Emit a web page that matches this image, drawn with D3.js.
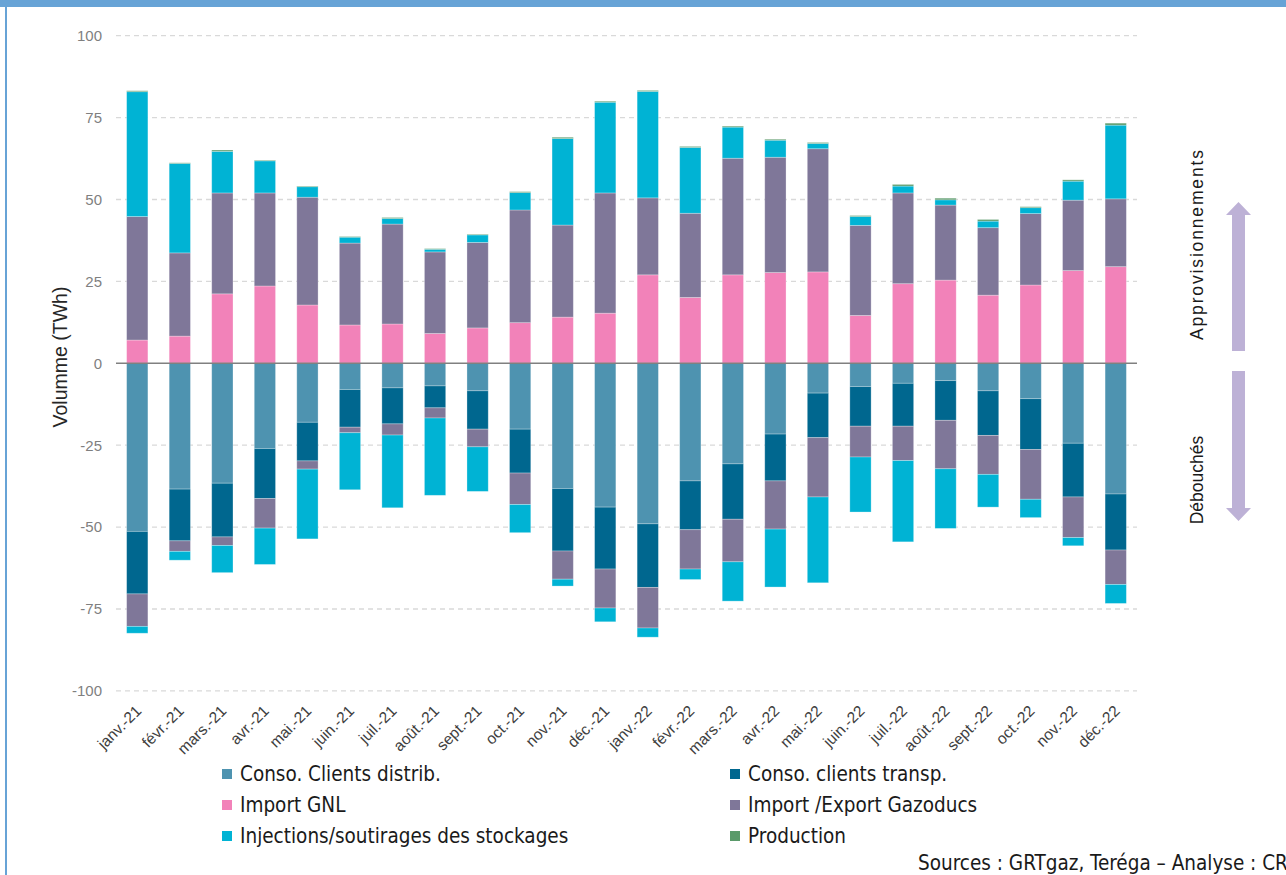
<!DOCTYPE html>
<html><head><meta charset="utf-8">
<script src="https://cdn.jsdelivr.net/npm/d3@7"></script>
<style>
html,body{margin:0;padding:0;background:#fff;overflow:hidden}
svg{display:block}
</style></head>
<body>
<svg id="chart" width="1286" height="875"></svg>
<script>
const months = ["janv.-21","févr.-21","mars.-21","avr.-21","mai.-21","juin.-21","juil.-21","août.-21","sept.-21","oct.-21","nov.-21","déc.-21","janv.-22","févr.-22","mars.-22","avr.-22","mai.-22","juin.-22","juil.-22","août.-22","sept.-22","oct.-22","nov.-22","déc.-22"];
// Approvisionnements (positive)
const importGNL      = [7.1,8.3,21.2,23.6,17.8,11.7,12.0,9.1,10.8,12.4,14.1,15.3,27.0,20.1,27.0,27.7,27.9,14.6,24.3,25.4,20.8,23.9,28.3,29.5];
const gazoducsImport = [37.7,25.4,30.8,28.4,32.9,25.0,30.5,24.9,26.1,34.4,28.1,36.7,23.5,25.7,35.6,35.2,37.6,27.5,27.7,22.9,20.6,21.8,21.5,20.7];
const stockSoutirage = [38.1,27.3,12.7,9.8,3.2,1.8,1.7,0.8,2.3,5.3,26.4,27.7,32.5,20.1,9.5,5.2,1.6,2.7,2.1,1.6,2.0,1.8,5.8,22.5];
const production     = [0.3,0.2,0.4,0.2,0.2,0.2,0.3,0.2,0.2,0.3,0.4,0.3,0.3,0.3,0.3,0.3,0.3,0.3,0.5,0.5,0.5,0.3,0.4,0.6];
// Débouchés (negative)
const consoDistrib   = [-51.3,-38.4,-36.6,-26.0,-18.0,-8.0,-7.5,-6.9,-8.4,-20.1,-38.2,-43.9,-49.0,-35.9,-30.7,-21.6,-9.1,-7.1,-6.1,-5.3,-8.4,-10.8,-24.4,-39.9];
const consoTransp    = [-19.1,-15.8,-16.4,-15.3,-11.8,-11.5,-11.0,-6.7,-11.7,-13.4,-19.1,-18.9,-19.4,-14.9,-16.9,-14.3,-13.6,-12.1,-13.1,-12.1,-13.6,-15.5,-16.4,-17.1];
const gazoducsExport = [-9.9,-3.2,-2.6,-9.0,-2.5,-1.7,-3.4,-3.1,-5.4,-9.6,-8.6,-11.9,-12.4,-12.0,-13.0,-14.7,-18.1,-9.4,-10.5,-14.8,-11.9,-15.2,-12.4,-10.5];
const stockInjection = [-2.1,-2.7,-8.3,-11.1,-21.3,-17.4,-22.2,-23.6,-13.6,-8.6,-2.1,-4.2,-2.8,-3.2,-12.0,-17.7,-26.2,-16.8,-24.8,-18.2,-10.0,-5.6,-2.5,-5.8];
const yTicks = [100,75,50,25,0,-25,-50,-75,-100];
const yTickLabels = ["100","75","50","25","0","-25","-50","-75","-100"];
const legendLabels = ["Conso. Clients distrib.","Conso. clients transp.","Import GNL","Import /Export Gazoducs","Injections/soutirages des stockages","Production"];

const colors = {
  distrib:"#4e93b0", transp:"#00678f", gnl:"#f282b9", gaz:"#7f7799", stock:"#00b3d4", prod:"#5a9a6a"
};

const table = months.map((m,i)=>({
  month:m,
  gnl:importGNL[i], distrib:consoDistrib[i], gazImp:gazoducsImport[i], transp:consoTransp[i],
  stockSout:stockSoutirage[i], gazExp:gazoducsExport[i], prod:production[i], stockInj:stockInjection[i]
}));
const keys = ["gnl","distrib","gazImp","transp","stockSout","gazExp","prod","stockInj"];
const keyColor = {gnl:colors.gnl, distrib:colors.distrib, gazImp:colors.gaz, transp:colors.transp,
  stockSout:colors.stock, gazExp:colors.gaz, prod:colors.prod, stockInj:colors.stock};

const svg = d3.select("#chart");
const plotL=116, plotR=1137, plotT=35.7, plotB=690.9;

// frame
svg.append("rect").attr("x",0).attr("y",0).attr("width",1286).attr("height",7).attr("fill","#67a3d6");
svg.append("rect").attr("x",5).attr("y",0).attr("width",2).attr("height",875).attr("fill","#67a3d6");

const x = d3.scaleBand().domain(months).range([plotL,plotR]).paddingInner(0.5).paddingOuter(0.25);
const y = d3.scaleLinear().domain([-100,100]).range([plotB,plotT]);

// grid
svg.append("g").selectAll("line").data(yTicks.filter(d=>d!==0)).join("line")
  .attr("x1",plotL).attr("x2",plotR).attr("y1",d=>y(d)).attr("y2",d=>y(d))
  .attr("stroke","#d9d9d9").attr("stroke-width",1.3).attr("stroke-dasharray","5,4");

// y axis labels
const yAxis = d3.axisLeft(y).tickValues(yTicks).tickSize(0).tickPadding(0)
  .tickFormat((d,i)=>yTickLabels[i]);
const ya = svg.append("g").attr("transform",`translate(${plotL-14},0)`).call(yAxis);
ya.select(".domain").remove();
ya.selectAll("text").attr("font-family","'Liberation Sans',Arial,sans-serif").attr("font-size",15).attr("fill","#7f7f7f");

// bars
const series = d3.stack().keys(keys).offset(d3.stackOffsetDiverging)(table);
svg.append("g").selectAll("g").data(series).join("g")
  .attr("fill",d=>keyColor[d.key])
  .selectAll("rect").data(d=>d).join("rect")
  .attr("x",d=>x(d.data.month)).attr("width",x.bandwidth())
  .attr("y",d=>y(Math.max(d[0],d[1]))).attr("height",d=>Math.abs(y(d[0])-y(d[1])))
  .attr("stroke","rgba(255,255,255,0.35)").attr("stroke-width",0.8);

// zero line
svg.append("line").attr("x1",plotL).attr("x2",plotR).attr("y1",y(0)).attr("y2",y(0))
  .attr("stroke","#808080").attr("stroke-width",1.5);

// x labels
const xAxis = d3.axisBottom(x).tickSize(0).tickPadding(0);
const xa = svg.append("g").attr("transform",`translate(0,${plotB})`).call(xAxis);
xa.select(".domain").remove();
xa.selectAll("text")
  .attr("font-family","'Liberation Sans',Arial,sans-serif").attr("font-size",15.5).attr("fill","#404040")
  .attr("text-anchor","end").attr("dy",0)
  .attr("transform","translate(5,21) rotate(-45)");

// y title
svg.append("text").attr("transform","translate(67,357) rotate(-90)")
  .attr("text-anchor","middle").attr("font-family","'Liberation Sans',Arial,sans-serif")
  .attr("font-size",19.5).attr("fill","#262626").text("Volumme (TWh)");

// right annotation
const arrowColor="#bdb1d6";
svg.append("path").attr("fill",arrowColor)
  .attr("d",`M1238.5,202 L1251,215 L1245,215 L1245,351 L1232,351 L1232,215 L1226,215 Z`);
svg.append("path").attr("fill",arrowColor)
  .attr("d",`M1232,371 L1245,371 L1245,508 L1251,508 L1238.5,521 L1226,508 L1232,508 Z`);
svg.append("text").attr("transform","translate(1203,245) rotate(-90)").attr("text-anchor","middle")
  .attr("font-family","'Liberation Sans',Arial,sans-serif").attr("font-size",17.5).attr("fill","#1a1a1a")
  .attr("textLength",190).attr("lengthAdjust","spacing").text("Approvisionnements");
svg.append("text").attr("transform","translate(1203,480) rotate(-90)").attr("text-anchor","middle")
  .attr("font-family","'Liberation Sans',Arial,sans-serif").attr("font-size",17.5).attr("fill","#1a1a1a").text("Débouchés");

// legend
const legColors=[colors.distrib,colors.transp,colors.gnl,colors.gaz,colors.stock,colors.prod];
const lg = svg.append("g").selectAll("g").data(legendLabels).join("g")
  .attr("transform",(d,i)=>`translate(${i%2===0?222:730},${774+Math.floor(i/2)*31})`);
lg.append("rect").attr("x",0).attr("y",-5).attr("width",10).attr("height",10).attr("fill",(d,i)=>legColors[i]);
lg.append("text").attr("x",18).attr("y",7).attr("font-family","'Liberation Sans Narrow','DejaVu Sans Condensed',sans-serif")
  .attr("font-size",20.5).attr("fill","#1a1a1a").text(d=>d);

svg.append("text").attr("x",918).attr("y",870).attr("font-family","'Liberation Sans Narrow','DejaVu Sans Condensed',sans-serif")
  .attr("font-size",20.5).attr("fill","#1a1a1a").text("Sources : GRTgaz, Teréga – Analyse : CRE");
</script>
</body></html>
